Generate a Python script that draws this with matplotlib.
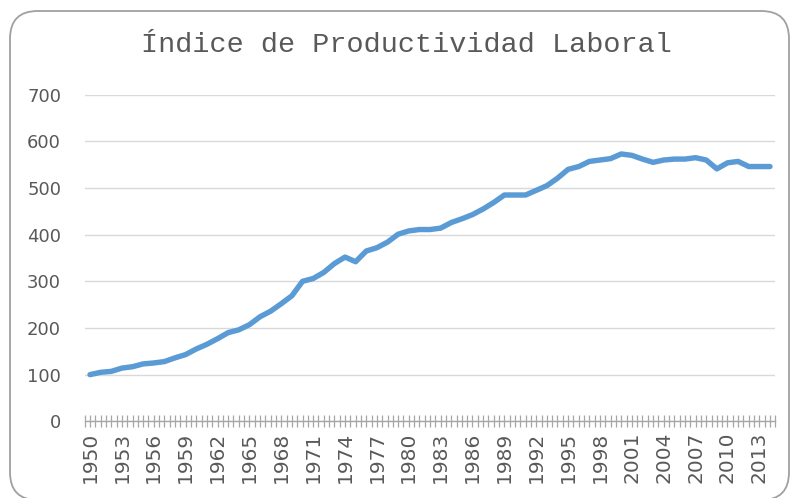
import matplotlib
matplotlib.use("Agg")
import matplotlib.pyplot as plt
from matplotlib.patches import FancyBboxPatch
import numpy as np

years = list(range(1950, 2015))
values = [100, 105, 107, 114, 117, 123, 125, 128, 136, 143,
          155, 165, 177, 190, 196, 207, 224, 236, 252, 269,
          300, 306, 319, 338, 352, 342, 365, 372, 384, 401,
          408, 411, 411, 414, 426, 434, 443, 455, 469, 485,
          485, 485, 495, 505, 521, 540, 546, 557, 560, 563,
          573, 570, 562, 555, 560, 562, 562, 565, 560, 541,
          554, 557, 546, 546, 546]
label_years = list(range(1950, 2015, 3))
y_ticks = [0, 100, 200, 300, 400, 500, 600, 700]
title = "Índice de Productividad Laboral"

W, H = 792, 498
fig = plt.figure(figsize=(W / 100, H / 100), dpi=100)

# rounded chart border
border = FancyBboxPatch((10 / W, -2 / H), 779 / W, 489 / H,
                        boxstyle="round,pad=0,rounding_size=0.035",
                        transform=fig.transFigure, fill=False,
                        edgecolor="#a0a0a0", linewidth=1.3, mutation_aspect=W / H)
fig.patches.append(border)

ax = fig.add_axes([84.7 / W, 1 - 421.3 / H, (775.3 - 84.7) / W, (421.3 - 94.7) / H])
ax.plot(years, values, color="#5b9bd5", linewidth=3.9, solid_capstyle="round",
        solid_joinstyle="round", zorder=3)

ax.set_xlim(1949.5, 2014.5)
ax.set_ylim(0, 700)
ax.set_yticks(y_ticks)
ax.set_xticks(label_years)
ax.set_xticklabels([str(y) for y in label_years], rotation=90)
ax.set_xticks(np.arange(1949.5, 2014.6, 0.5), minor=True)

ax.grid(axis="y", color="#d9d9d9", linewidth=1.0)
ax.set_axisbelow(True)
for s in ["top", "right", "left"]:
    ax.spines[s].set_visible(False)
ax.spines["bottom"].set_color("#a6a6a6")
ax.spines["bottom"].set_linewidth(1.0)

ax.tick_params(axis="y", length=0, pad=17, labelsize=13, labelcolor="#595959")
ax.tick_params(axis="x", which="both", direction="inout", length=9, width=0.9,
               color="#a6a6a6", labelsize=14.5, labelcolor="#595959", pad=3)

fig.text(406 / W, 1 - 45 / H, title, ha="center", va="center",
         fontsize=20.5, family="Liberation Mono", color="#595959")

fig.savefig("out.png", dpi=100)
